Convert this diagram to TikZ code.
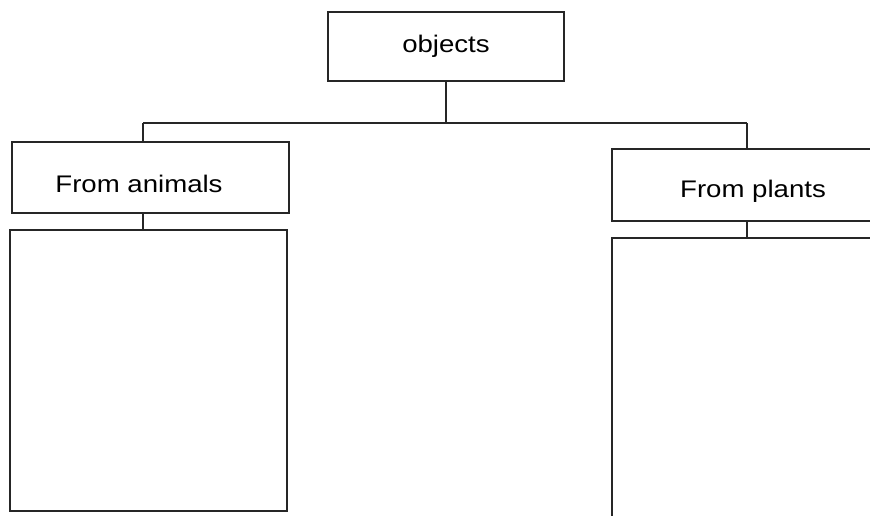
\documentclass[tikz,border=0pt]{standalone}
\usepackage{fontspec}
\setmainfont{Liberation Sans}
\begin{document}
\begin{tikzpicture}[x=1pt,y=-1pt,
  box/.style={draw=black!85, line width=1.5pt, rectangle, inner sep=0pt, anchor=north west},
  link/.style={draw=black!85, line width=1.5pt},
  lbl/.style={font=\fontsize{24}{28}\selectfont}]
\useasboundingbox (0,0) rectangle (870,515);
\clip (0,0) rectangle (870,515);
% boxes
\node[box, minimum width=236pt, minimum height=69pt] (objects) at (327,11) {};
\node[lbl] (objectsT) at (446,46) {\scalebox{1.15}[1]{objects}};
\node[box, minimum width=277pt, minimum height=71pt] (animals) at (11,141) {};
\node[lbl] (animalsT) at (139,184) {\scalebox{1.15}[1]{From animals}};
\node[box, minimum width=277pt, minimum height=281pt] (leftbig) at (9,229) {};
\node[box, minimum width=280pt, minimum height=72pt] (plants) at (611,148) {};
\node[lbl] (plantsT) at (753,191) {\scalebox{1.15}[1]{From plants}};
\node[box, minimum width=280pt, minimum height=300pt] (rightbig) at (611,237) {};
% connectors
\coordinate (hub) at (objects.south |- 0,123);
\coordinate (al) at (143,123);
\coordinate (ar) at (747,123);
\draw[link] (objects.south) -- (hub);
\draw[link] (al) -- (ar);
\draw[link] (al) -- (al |- animals.north);
\draw[link] (ar) -- (ar |- plants.north);
\draw[link] (al |- animals.south) -- (al |- leftbig.north);
\draw[link] (ar |- plants.south) -- (ar |- rightbig.north);
\end{tikzpicture}
\end{document}
